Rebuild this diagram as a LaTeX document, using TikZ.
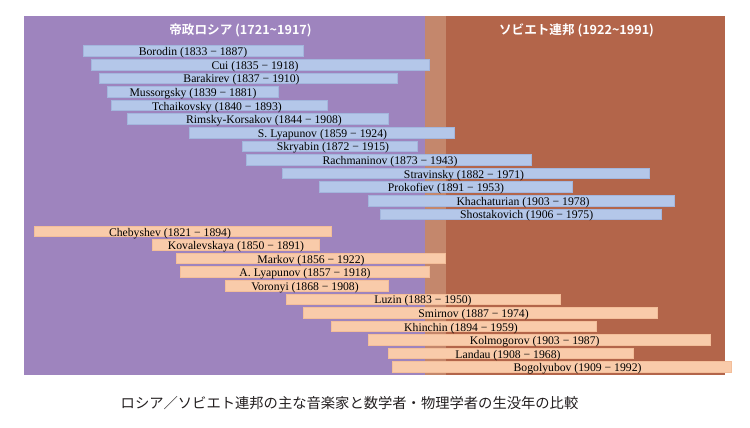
\documentclass[tikz,border=0pt]{standalone}
\usepackage{fontspec}
\setmainfont{Liberation Serif}
\newfontfamily\cjk{Noto Sans CJK JP}
\newfontfamily\cjkbold{Noto Sans CJK JP Bold}
\definecolor{imperialbg}{HTML}{9E84BE}
\definecolor{bandbg}{HTML}{C4876C}
\definecolor{sovietbg}{HTML}{B3654A}
\definecolor{composerfill}{HTML}{B4C7E9}
\definecolor{composerline}{HTML}{A3B6DD}
\definecolor{mathfill}{HTML}{F9CBAA}
\definecolor{mathline}{HTML}{F3BE9A}
\definecolor{captioncol}{HTML}{231F20}
\tikzset{
  region/.style={rectangle, inner sep=0pt, outer sep=0pt, anchor=north west, draw=none},
  barbox/.style={rectangle, inner sep=0pt, outer sep=0pt, anchor=north west, line width=0.5pt, minimum height=10.6pt},
  composer/.style={barbox, fill=composerfill, draw=composerline},
  mathematician/.style={barbox, fill=mathfill, draw=mathline},
  bartext/.style={inner sep=0pt, anchor=base, font=\fontsize{11.7}{12}\selectfont, text=black},
  eratitle/.style={inner sep=0pt, text=white, font=\cjkbold\fontsize{12.6}{14}\selectfont},
  caption/.style={inner sep=0pt, text=captioncol, font=\cjk\fontsize{14.3}{16}\selectfont}
}
% name, from-year, to-year, top y, style, label, label centre x
\newcommand\tlbar[7]{%
  \node[#5, minimum width={(#3-#2)*4.076}] (#1) at ({34+(#2-1821)*4.076},#4) {};
  \node[bartext] (#1-label) at (#7,{#4+10}) {#6};
}
\begin{document}
\begin{tikzpicture}[x=1pt,y=-1pt]
\useasboundingbox (0,0) rectangle (750,428);
\fill[white] (0,0) rectangle (750,428);
% era backgrounds
\node[region, fill=imperialbg, minimum width=401, minimum height=359] (imperial) at (24,16) {};
\node[region, fill=bandbg, minimum width=21, minimum height=359] (transition) at (425,16) {};
\node[region, fill=sovietbg, minimum width=279, minimum height=359] (soviet) at (446,16) {};
\node[eratitle] (imperialtitle) at (240.5,30.5) {帝政ロシア (1721\char"7E 1917)};
\node[eratitle] (soviettitle) at (576.5,30.5) {ソビエト連邦 (1922\char"7E 1991)};
% composers
\tlbar{borodin}{1833}{1887}{45.7}{composer}{Borodin (1833 − 1887)}{193}
\tlbar{cui}{1835}{1918}{59.3}{composer}{Cui (1835 − 1918)}{255}
\tlbar{barakirev}{1837}{1910}{72.9}{composer}{Barakirev (1837 − 1910)}{241.5}
\tlbar{mussorgsky}{1839}{1881}{86.5}{composer}{Mussorgsky (1839 − 1881)}{193}
\tlbar{tchaikovsky}{1840}{1893}{100.1}{composer}{Tchaikovsky (1840 − 1893)}{217}
\tlbar{rimsky}{1844}{1908}{113.7}{composer}{Rimsky-Korsakov (1844 − 1908)}{264}
\tlbar{slyapunov}{1859}{1924}{127.3}{composer}{S. Lyapunov (1859 − 1924)}{322.5}
\tlbar{skryabin}{1872}{1915}{140.9}{composer}{Skryabin (1872 − 1915)}{333}
\tlbar{rachmaninov}{1873}{1943}{154.5}{composer}{Rachmaninov (1873 − 1943)}{390}
\tlbar{stravinsky}{1882}{1972}{168.1}{composer}{Stravinsky (1882 − 1971)}{464}
\tlbar{prokofiev}{1891}{1953}{181.7}{composer}{Prokofiev (1891 − 1953)}{446}
\tlbar{khachaturian}{1903}{1978}{195.3}{composer}{Khachaturian (1903 − 1978)}{523}
\tlbar{shostakovich}{1906}{1975}{208.9}{composer}{Shostakovich (1906 − 1975)}{526.7}
% mathematicians and physicists
\tlbar{chebyshev}{1821}{1894}{226}{mathematician}{Chebyshev (1821 − 1894)}{170}
\tlbar{kovalevskaya}{1850}{1891}{239.6}{mathematician}{Kovalevskaya (1850 − 1891)}{236}
\tlbar{markov}{1856}{1922}{253.1}{mathematician}{Markov (1856 − 1922)}{311}
\tlbar{alyapunov}{1857}{1918}{266.7}{mathematician}{A. Lyapunov (1857 − 1918)}{305}
\tlbar{voronyi}{1868}{1908}{280.3}{mathematician}{Voronyi (1868 − 1908)}{305}
\tlbar{luzin}{1883}{1950}{293.9}{mathematician}{Luzin (1883 − 1950)}{423}
\tlbar{smirnov}{1887}{1974}{307.4}{mathematician}{Smirnov (1887 − 1974)}{473.6}
\tlbar{khinchin}{1894}{1959}{321}{mathematician}{Khinchin (1894 − 1959)}{461}
\tlbar{kolmogorov}{1903}{1987}{334.6}{mathematician}{Kolmogorov (1903 − 1987)}{534.7}
\tlbar{landau}{1908}{1968}{348.1}{mathematician}{Landau (1908 − 1968)}{508}
\tlbar{bogolyubov}{1909}{1992}{361.7}{mathematician}{Bogolyubov (1909 − 1992)}{577.6}
% caption
\node[caption] (caption) at (349.5,403) {ロシア／ソビエト連邦の主な音楽家と数学者・物理学者の生没年の比較};
\end{tikzpicture}
\end{document}
